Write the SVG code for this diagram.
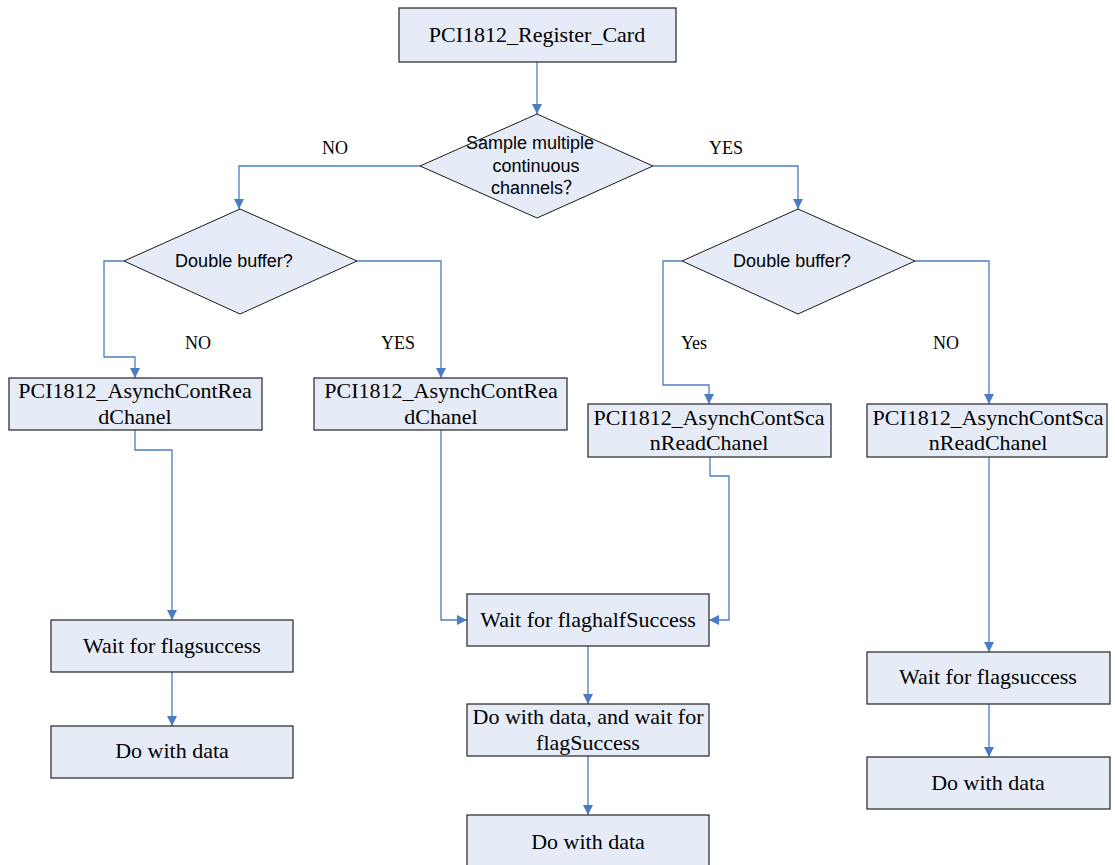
<svg xmlns="http://www.w3.org/2000/svg" width="1115" height="865" viewBox="0 0 1115 865">
<defs>
<marker id="arr" markerUnits="userSpaceOnUse" markerWidth="10" markerHeight="10" refX="10" refY="5" orient="auto">
<path d="M0,0 L10,5 L0,10 z" fill="#4A7CC4"/>
</marker>
<style>
.box{fill:#E6ECF7;stroke:#333333;stroke-width:1.3}
.dia{fill:#E6ECF7;stroke:#1a1a1a;stroke-width:1}
.bt{font-family:"Liberation Serif","Times New Roman",serif;font-size:22px;fill:#000;text-anchor:middle}
.dt{font-family:"Liberation Sans",Arial,"Noto Sans CJK SC",sans-serif;font-size:18px;fill:#000;text-anchor:middle}
.lb{font-family:"Liberation Serif","Times New Roman",serif;font-size:18px;fill:#000;text-anchor:middle}
.c{fill:none;stroke:#4A7CC4;stroke-width:1.3;marker-end:url(#arr)}
</style>
</defs>
<rect width="1115" height="865" fill="#ffffff"/>
<g id="connectors">
<path class="c" d="M537,62 L537,114"/>
<path class="c" d="M420,166 L239,166 L239,209"/>
<path class="c" d="M653,166 L798,166 L798,209"/>
<path class="c" d="M124,261 L104,261 L104,357 L135,357 L135,378"/>
<path class="c" d="M357,261 L441,261 L441,378"/>
<path class="c" d="M682,261 L663,261 L663,385 L709,385 L709,404"/>
<path class="c" d="M915,261 L989,261 L989,404"/>
<path class="c" d="M135,430 L135,450 L172,450 L172,620"/>
<path class="c" d="M172,672 L172,726"/>
<path class="c" d="M441,430 L441,620 L467,620"/>
<path class="c" d="M710,457 L710,476 L729,476 L729,620 L709,620"/>
<path class="c" d="M588,646 L588,704"/>
<path class="c" d="M588,756 L588,815"/>
<path class="c" d="M989,457 L989,652"/>
<path class="c" d="M989,704 L989,757"/>
</g>
<g id="labels">
<text class="lb" x="335" y="154">NO</text>
<text class="lb" x="726" y="154">YES</text>
<text class="lb" x="198" y="349">NO</text>
<text class="lb" x="398" y="349">YES</text>
<text class="lb" x="694" y="349">Yes</text>
<text class="lb" x="946" y="349">NO</text>
</g>
<g id="register">
<rect class="box" x="399" y="8" width="277" height="54"/>
<text class="bt" x="537" y="42">PCI1812_Register_Card</text>
</g>
<g id="decision-main">
<polygon class="dia" points="537,114 653,166 537,218 420,166"/>
<text class="dt" x="530" y="149">Sample multiple</text>
<text class="dt" x="536" y="172">continuous</text>
<text class="dt" x="536" y="194">channels？</text>
</g>
<g id="decision-left">
<polygon class="dia" points="240,209 357,261 240,314 124,261"/>
<text class="dt" x="234" y="267">Double buffer?</text>
</g>
<g id="decision-right">
<polygon class="dia" points="798,209 915,261 798,314 682,261"/>
<text class="dt" x="792" y="267">Double buffer?</text>
</g>
<g id="box-a">
<rect class="box" x="9" y="378" width="253" height="52"/>
<text class="bt" x="135" y="398">PCI1812_AsynchContRea</text>
<text class="bt" x="135" y="424">dChanel</text>
</g>
<g id="box-b">
<rect class="box" x="314" y="378" width="253" height="52"/>
<text class="bt" x="441" y="398">PCI1812_AsynchContRea</text>
<text class="bt" x="441" y="424">dChanel</text>
</g>
<g id="box-c">
<rect class="box" x="588" y="404" width="243" height="53"/>
<text class="bt" x="709" y="425">PCI1812_AsynchContSca</text>
<text class="bt" x="709" y="450">nReadChanel</text>
</g>
<g id="box-d">
<rect class="box" x="867" y="404" width="240" height="53"/>
<text class="bt" x="988" y="425">PCI1812_AsynchContSca</text>
<text class="bt" x="988" y="450">nReadChanel</text>
</g>
<g id="wait-left">
<rect class="box" x="51" y="620" width="242" height="52"/>
<text class="bt" x="172" y="653">Wait for flagsuccess</text>
</g>
<g id="do-left">
<rect class="box" x="51" y="726" width="242" height="52"/>
<text class="bt" x="172" y="758">Do with data</text>
</g>
<g id="wait-half">
<rect class="box" x="467" y="594" width="242" height="52"/>
<text class="bt" x="588" y="627">Wait for flaghalfSuccess</text>
</g>
<g id="do-wait">
<rect class="box" x="467" y="704" width="242" height="52"/>
<text class="bt" x="588" y="724">Do with data, and wait for</text>
<text class="bt" x="588" y="750">flagSuccess</text>
</g>
<g id="do-mid">
<rect class="box" x="467" y="815" width="242" height="53"/>
<text class="bt" x="588" y="849">Do with data</text>
</g>
<g id="wait-right">
<rect class="box" x="867" y="652" width="243" height="52"/>
<text class="bt" x="988" y="684">Wait for flagsuccess</text>
</g>
<g id="do-right">
<rect class="box" x="867" y="757" width="243" height="52"/>
<text class="bt" x="988" y="790">Do with data</text>
</g>
</svg>
